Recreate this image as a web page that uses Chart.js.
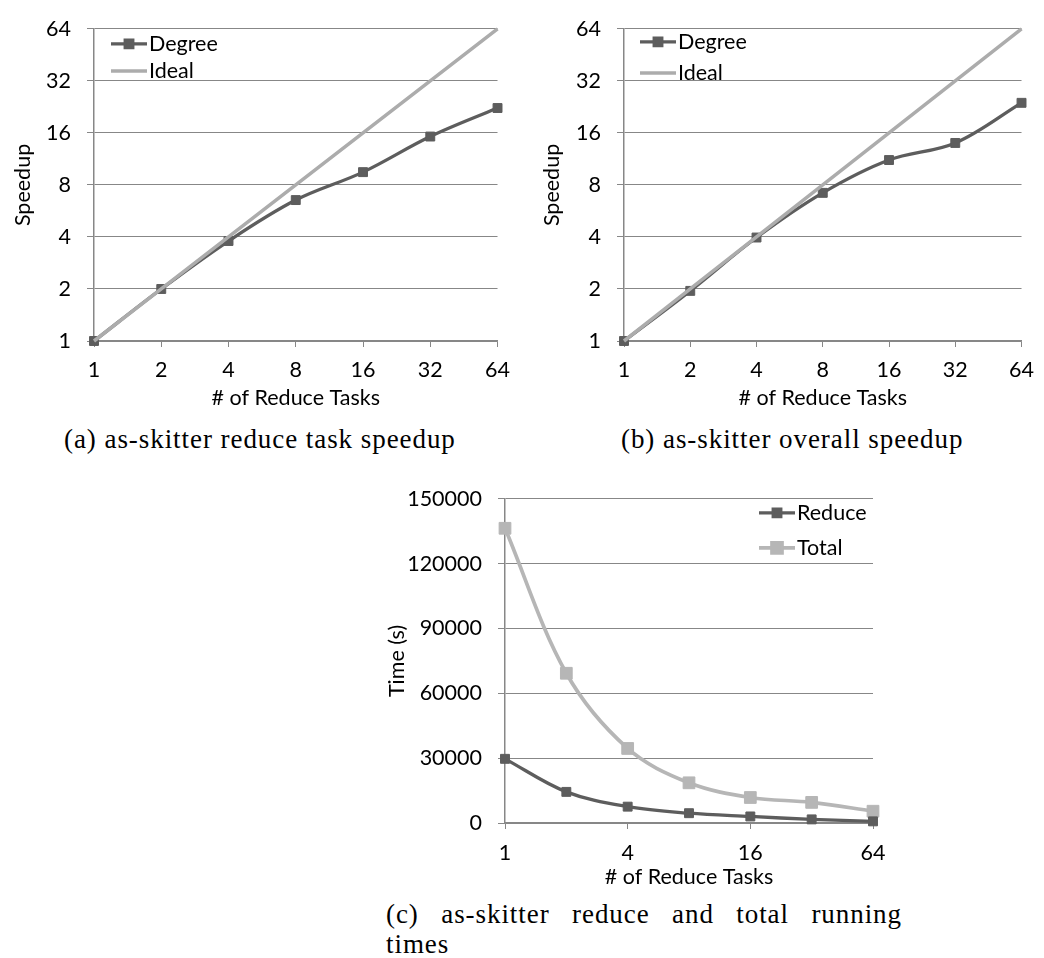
<!DOCTYPE html>
<html>
<head>
<meta charset="utf-8">
<script src="https://cdn.jsdelivr.net/npm/chart.js@4.4.1/dist/chart.umd.min.js"></script>
<style>
  body { margin: 0; background: #fff; }
  #page { position: relative; width: 1044px; height: 958px; overflow: hidden; background: #fff; }
  canvas { position: absolute; }
  .cap {
    position: absolute;
    font-family: "Liberation Serif", serif;
    font-size: 27px;
    line-height: 30px;
    letter-spacing: 0.94px;
    color: #000;
    white-space: nowrap;
  }
  .just { text-align: justify; text-align-last: justify; }
</style>
</head>
<body>
<div id="page">
  <canvas id="chartA" width="520" height="420" style="left:0px;top:0px"></canvas>
  <canvas id="chartB" width="524" height="420" style="left:520px;top:0px"></canvas>
  <canvas id="chartC" width="540" height="420" style="left:360px;top:470px"></canvas>

  <div class="cap" style="left:64px;top:424px">(a) as-skitter reduce task speedup</div>
  <div class="cap" style="left:621px;top:424px">(b) as-skitter overall speedup</div>
  <div class="cap just" style="left:386px;top:899px;width:516px">(c) as-skitter reduce and total running</div>
  <div class="cap" style="left:386px;top:929px">times</div>
</div>

<script>
// categories (x axis) and tick values
const taskCounts = ["1", "2", "4", "8", "16", "32", "64"];
const speedupTicks = [1, 2, 4, 8, 16, 32, 64];
const timeTicks = [0, 30000, 60000, 90000, 120000, 150000];

// series
const idealSpeedup = [1, 2, 4, 8, 16, 32, 64];
const reduceTaskSpeedup = [1, 2.0, 3.79, 6.54, 9.49, 15.25, 22.3];
const overallSpeedup = [1, 1.95, 3.97, 7.2, 11.15, 14.0, 23.9];
const reduceTime = [29700, 14400, 7570, 4540, 3030, 1670, 760];
const totalTime = [136400, 69300, 34500, 18600, 11800, 9540, 5450];

const DARK = "#5d5d5d";
const LIGHT = "#acacac";
const TOTAL = "#b6b6b6";
const AXIS = "#878787";
const FONT_SIZE = 21.5;

Chart.defaults.font.family = "Lato";
Chart.defaults.font.size = FONT_SIZE;
Chart.defaults.color = "#000";

// legend drawn inside the plot area, Excel style (line + marker)
const insideLegend = {
    id: "insideLegend",
    afterDraw(chart, args, opts) {
        const { ctx, chartArea } = chart;
        ctx.save();
        ctx.font = FONT_SIZE + "px Lato";
        ctx.textBaseline = "middle";
        chart.data.datasets.forEach((ds, i) => {
            const x = chartArea.left + opts.x;
            const y = chartArea.top + opts.y + i * opts.gap;
            ctx.strokeStyle = ds.borderColor;
            ctx.lineWidth = ds.borderWidth;
            ctx.beginPath();
            ctx.moveTo(x, y);
            ctx.lineTo(x + opts.len, y);
            ctx.stroke();
            if (ds.pointRadius > 0) {
                ctx.fillStyle = ds.pointBackgroundColor;
                ctx.strokeStyle = ds.pointBackgroundColor;
                Chart.helpers.drawPoint(ctx, {
                    pointStyle: "rect",
                    radius: ds.pointRadius * 0.85,
                    borderWidth: 1
                }, x + opts.len / 2, y);
            }
            ctx.fillStyle = "#000";
            ctx.fillText(ds.label, x + opts.len + 2, y);
        });
        ctx.restore();
    }
};

function lineSet(label, data, color, radius, extra) {
    return Object.assign({
        label: label,
        data: data,
        borderColor: color,
        backgroundColor: color,
        pointBackgroundColor: color,
        pointBorderColor: color,
        pointBorderWidth: 1,
        pointStyle: "rect",
        pointRadius: radius,
        borderWidth: 3.3,
        tension: 0.35,
        clip: false
    }, extra || {});
}

function speedupChart(id, series, geo) {
    return new Chart(document.getElementById(id), {
        type: "line",
        data: {
            labels: taskCounts,
            datasets: [
                lineSet("Degree", series, DARK, 6.3, { order: 1 }),
                lineSet("Ideal", idealSpeedup, LIGHT, 0, { order: 0, tension: 0, borderWidth: 3.5 })
            ]
        },
        options: {
            responsive: false,
            animation: false,
            layout: { padding: { left: 0, top: 17, right: geo.right, bottom: 0 } },
            plugins: {
                legend: { display: false },
                tooltip: { enabled: false },
                insideLegend: geo.legend
            },
            scales: {
                x: {
                    type: "category",
                    offset: false,
                    afterFit: s => { s.height = 79; },
                    grid: { drawOnChartArea: false, tickLength: 6, color: AXIS },
                    border: { color: AXIS, width: 1.5 },
                    ticks: { padding: 10, maxRotation: 0, autoSkip: false },
                    title: { display: true, text: "# of Reduce Tasks", padding: { top: 0, bottom: 9 } }
                },
                y: {
                    type: "logarithmic",
                    min: 1,
                    max: 64,
                    afterFit: s => { s.width = geo.yWidth; },
                    afterBuildTicks: s => { s.ticks = speedupTicks.map(v => ({ value: v })); },
                    grid: { color: AXIS, tickLength: 7, lineWidth: 1 },
                    border: { color: AXIS, width: 1.5 },
                    ticks: { padding: 16, callback: v => String(v) },
                    title: { display: true, text: "Speedup", padding: { top: geo.titlePad, bottom: 0 } }
                }
            }
        },
        plugins: [insideLegend]
    });
}

speedupChart("chartA", reduceTaskSpeedup, {
    right: 21, yWidth: 94, titlePad: 10,
    legend: { x: 17, y: 15, gap: 27, len: 36 }
});
speedupChart("chartB", overallSpeedup, {
    right: 14, yWidth: 104, titlePad: 19,
    legend: { x: 16, y: 13, gap: 31, len: 36 }
});

new Chart(document.getElementById("chartC"), {
    type: "line",
    data: {
        labels: taskCounts,
        datasets: [
            lineSet("Reduce", reduceTime, DARK, 6.3),
            lineSet("Total", totalTime, TOTAL, 8.3, { borderWidth: 3.7 })
        ]
    },
    options: {
        responsive: false,
        animation: false,
        layout: { padding: { left: 0, top: 22, right: 27, bottom: 0 } },
        plugins: {
            legend: { display: false },
            tooltip: { enabled: false },
            insideLegend: { x: 254, y: 14, gap: 35, len: 36 }
        },
        scales: {
            x: {
                type: "category",
                offset: false,
                afterFit: s => { s.height = 67; },
                grid: {
                    drawOnChartArea: false,
                    tickLength: 6,
                    color: AXIS,
                    tickColor: c => (c.index % 2 ? "rgba(0,0,0,0)" : AXIS)
                },
                border: { color: AXIS, width: 1.5 },
                ticks: {
                    padding: 11,
                    maxRotation: 0,
                    autoSkip: false,
                    callback: (v, i) => (i % 2 ? "" : taskCounts[i])
                },
                title: { display: true, text: "# of Reduce Tasks", padding: { top: 0, bottom: 0 } }
            },
            y: {
                type: "linear",
                min: 0,
                max: 150000,
                afterFit: s => { s.width = 145; },
                afterBuildTicks: s => { s.ticks = timeTicks.map(v => ({ value: v })); },
                grid: { color: AXIS, tickLength: 7, lineWidth: 1 },
                border: { color: AXIS, width: 1.5 },
                ticks: { padding: 16, callback: v => String(v) },
                title: { display: true, text: "Time (s)", padding: { top: 24, bottom: 0 } }
            }
        }
    },
    plugins: [insideLegend]
});
</script>
</body>
</html>
